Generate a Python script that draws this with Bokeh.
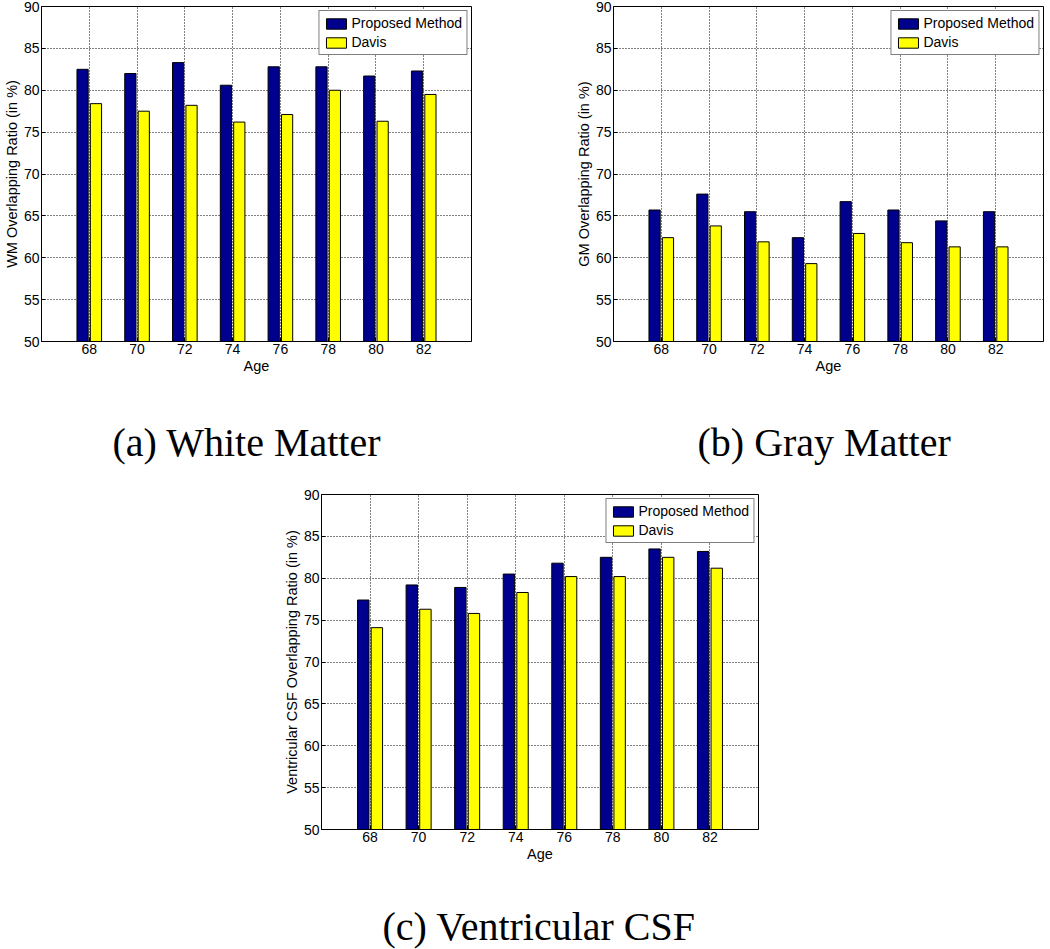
from bokeh.plotting import figure
from bokeh.models import ColumnDataSource, Range1d, FixedTicker, Title, Spacer
from bokeh.layouts import column, row
from bokeh.transform import dodge
from bokeh.embed import file_html
from bokeh.resources import INLINE

# ---- data ----
ages = [68, 70, 72, 74, 76, 78, 80, 82]
wm_proposed = [82.5, 82.0, 83.3, 80.6, 82.8, 82.8, 81.7, 82.3]
wm_davis = [78.4, 77.5, 78.2, 76.2, 77.1, 80.0, 76.3, 79.5]
gm_proposed = [65.7, 67.6, 65.5, 62.4, 66.7, 65.7, 64.4, 65.5]
gm_davis = [62.4, 63.8, 61.9, 59.3, 62.9, 61.8, 61.3, 61.3]
csf_proposed = [77.4, 79.2, 78.9, 80.5, 81.8, 82.5, 83.5, 83.2]
csf_davis = [74.1, 76.3, 75.8, 78.3, 80.2, 80.2, 82.5, 81.2]
y_ticks = [50, 55, 60, 65, 70, 75, 80, 85, 90]
series_names = ["Proposed Method", "Davis"]
x_label = "Age"
y_labels = ["WM Overlapping Ratio (in %)",
            "GM Overlapping Ratio (in %)",
            "Ventricular CSF Overlapping Ratio (in %)"]
captions = ["(a) White Matter", "(b) Gray Matter", "(c) Ventricular CSF"]

BLUE = "#00008F"
YELLOW = "#FFFF00"
SANS = "Liberation Sans"
SERIF = "Liberation Serif"
FS = "14px"


def make_panel(proposed, davis, ylabel, caption, cap_offset, cap_gap,
               frame_w, frame_h, b_left, b_right, b_top, b_bottom):
    src = ColumnDataSource(dict(age=ages, proposed=proposed, davis=davis))
    p = figure(frame_width=frame_w, frame_height=frame_h,
               x_range=Range1d(66, 84), y_range=Range1d(50, 90),
               output_backend="svg", toolbar_location=None,
               min_border_left=b_left, min_border_right=b_right,
               min_border_top=b_top, min_border_bottom=b_bottom)
    p.vbar(x=dodge("age", -0.28, range=p.x_range), top="proposed", bottom=50,
           width=0.47, source=src, fill_color=BLUE, line_color="black",
           line_width=1, legend_label=series_names[0])
    p.vbar(x=dodge("age", 0.28, range=p.x_range), top="davis", bottom=50,
           width=0.47, source=src, fill_color=YELLOW, line_color="black",
           line_width=1, legend_label=series_names[1])

    p.xaxis.ticker = FixedTicker(ticks=ages)
    p.yaxis.ticker = FixedTicker(ticks=y_ticks)
    for ax in (p.xaxis, p.yaxis):
        ax.major_tick_in = 4
        ax.major_tick_out = 0
        ax.minor_tick_line_color = None
        ax.axis_line_color = "black"
        ax.major_tick_line_color = "black"
        ax.major_label_text_font = SANS
        ax.major_label_text_font_size = FS
        ax.major_label_text_color = "black"
        ax.axis_label_text_font = SANS
        ax.axis_label_text_font_size = "14.5px"
        ax.axis_label_text_font_style = "normal"
        ax.axis_label_text_color = "black"
        ax.major_label_standoff = 2
        ax.axis_label_standoff = 1
    p.xaxis.axis_label = x_label
    p.yaxis.axis_label = ylabel

    for g in (p.xgrid, p.ygrid):
        g.grid_line_color = "black"
        g.grid_line_dash = "1 2"
        g.grid_line_width = 1
        g.grid_line_alpha = 1
    p.xgrid.ticker = FixedTicker(ticks=ages)
    p.ygrid.ticker = FixedTicker(ticks=y_ticks)

    p.outline_line_color = "black"
    p.outline_line_width = 1
    p.outline_line_alpha = 1
    p.background_fill_color = "white"
    p.border_fill_color = "white"

    lg = p.legend[0]
    lg.location = "top_right"
    lg.margin = 4
    lg.padding = 4
    lg.spacing = 3
    lg.glyph_width = 25
    lg.glyph_height = 13
    lg.label_height = 13
    lg.label_standoff = 3
    lg.label_text_font = SANS
    lg.label_text_font_size = FS
    lg.label_text_color = "black"
    lg.border_line_color = "black"
    lg.border_line_width = 1.5
    lg.background_fill_alpha = 1

    # empty spacer title to push the caption further down
    p.add_layout(Title(text=" ", text_font_size="1px", standoff=cap_gap), "below")
    p.add_layout(Title(text=caption, align="left", text_font=SERIF,
                       text_font_size="40px", text_font_style="normal",
                       text_color="black", standoff=0,
                       offset=cap_offset), "below")
    return p


pa = make_panel(wm_proposed, wm_davis, y_labels[0], captions[0], 71, 38,
                430, 335, 36, 101, 6, 139)
pb = make_panel(gm_proposed, gm_davis, y_labels[1], captions[1], 84, 38,
                430, 335, 36, 1, 6, 139)
pc = make_panel(csf_proposed, csf_davis, y_labels[2], captions[2], 61, 34,
                437, 335, 36, 10, 14, 120)

layout = column(row(pa, pb), row(Spacer(width=280, height=10), pc))

open("out.html", "w").write(file_html(layout, INLINE))
